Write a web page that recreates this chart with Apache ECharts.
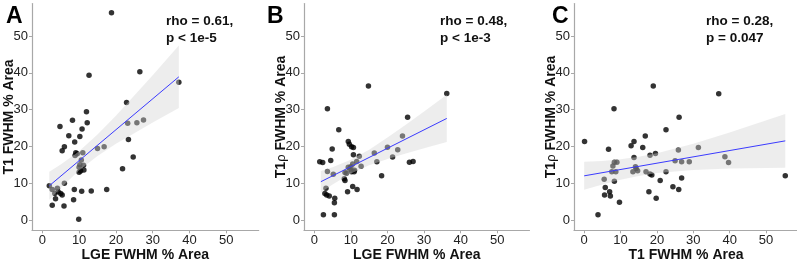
<!DOCTYPE html>
<html>
<head>
<meta charset="utf-8">
<script src="https://cdn.jsdelivr.net/npm/echarts@6/dist/echarts.min.js"></script>
<style>
html,body{margin:0;padding:0;background:#fff;}
#c{width:797px;height:261px;}
</style>
</head>
<body>
<div id="c"></div>
<script>
// ---- data ----
const panelLetters = ['A', 'B', 'C'];
const xTitles = ['LGE FWHM % Area', 'LGE FWHM % Area', 'T1 FWHM % Area'];
const yTitles = ['{b|T1 FWHM % Area}', '{b|T1}{r|ρ}{b| FWHM % Area}', '{b|T1}{r|ρ}{b| FWHM % Area}'];
const statLines = [['rho = 0.61,', 'p < 1e-5'], ['rho = 0.48,', 'p < 1e-3'], ['rho = 0.28,', 'p = 0.047']];
const tickValues = [0, 10, 20, 30, 40, 50];
const tickLabels = ['0', '10', '20', '30', '40', '50'];

// Panel A: LGE vs T1
const aX = [18.8, 37.1, 26.5, 12.7, 22.9, 12.0, 12.2, 8.2, 4.8, 7.2, 10.8, 10.2, 8.8, 6.0, 5.4, 9.1, 8.9, 11.0, 10.6, 10.2,
            11.2, 10.0, 10.4, 11.3, 10.0, 15.0, 16.8, 23.2, 25.7, 27.5, 23.4, 24.7, 21.8, 17.5, 13.3, 10.7, 8.7, 8.5, 5.9, 2.7,
            3.6, 9.9, 1.9, 2.7, 3.4, 4.1, 4.3, 5.0, 5.4, 6.0, 9.5];
const aY = [56.3, 37.4, 40.3, 39.3, 31.9, 29.4, 26.4, 27.1, 25.4, 22.9, 24.7, 22.7, 21.2, 19.9, 18.8, 18.3, 17.5, 18.3, 16.3, 15.0,
            14.9, 14.3, 13.3, 13.6, 13.0, 19.4, 19.9, 26.3, 26.4, 27.2, 21.9, 17.1, 13.9, 8.3, 7.9, 7.8, 8.3, 5.5, 3.8, 4.0,
            5.8, 0.2, 9.3, 8.3, 7.2, 8.6, 7.7, 7.2, 6.8, 10.0, 18.0];
const aLineX = [1.9, 37.1];
const aLineY = [9.3, 38.9];
const aBandX = [1.9, 5, 10, 15, 20, 25, 30, 37.1];
const aBandUpper = [13.1, 15.1, 18.7, 23.2, 28.3, 33.8, 39.3, 47.4];
const aBandLower = [5.5, 8.7, 13.5, 17.4, 20.7, 23.6, 26.5, 30.4];

// Panel B: LGE vs T1rho
const bX = [14.8, 36.2, 3.6, 6.7, 25.5, 24.1, 9.3, 9.6, 10.2, 10.7, 4.9, 1.5, 2.3, 4.5, 3.6, 5.2, 10.7, 12.3, 11.6, 12.8,
            16.4, 17.1, 20.0, 21.4, 22.8, 18.4, 26.0, 27.0, 9.3, 8.4, 8.8, 9.7, 10.2, 10.9, 8.2, 8.4, 9.1, 10.5, 11.7, 3.2,
            2.9, 3.4, 4.1, 5.6, 5.5, 2.5, 5.5, 10.0, 11.0, 10.5];
const bY = [36.4, 34.4, 30.2, 24.5, 27.9, 22.8, 21.3, 20.6, 19.9, 19.7, 19.3, 15.8, 15.6, 16.2, 13.2, 12.4, 17.7, 17.3, 15.9, 14.6,
            18.2, 15.8, 19.8, 17.1, 19.1, 12.0, 15.7, 15.9, 14.3, 12.9, 12.7, 13.8, 13.1, 13.1, 11.2, 10.7, 7.7, 9.1, 8.3, 8.6,
            7.2, 6.8, 6.5, 5.9, 4.7, 1.4, 1.4, 14.5, 13.5, 15.2];
const bLineX = [1.8, 36.2];
const bLineY = [10.4, 27.6];
const bBandX = [1.8, 5, 10, 15, 20, 25, 30, 36.2];
const bBandUpper = [13.3, 14.35, 16.36, 19.1, 22.4, 25.9, 29.5, 34.0];
const bBandLower = [7.5, 9.65, 12.64, 14.9, 16.6, 18.1, 19.5, 21.2];

// Panel C: T1 vs T1rho
const cX = [19.0, 37.0, 8.2, 26.1, 0.1, 22.5, 16.8, 13.7, 12.9, 16.1, 6.7, 19.6, 18.1, 13.7, 31.4, 25.9, 38.7, 39.7, 28.9, 26.8,
            25.0, 55.3, 7.9, 8.3, 9.0, 7.6, 8.7, 8.3, 5.5, 5.8, 7.0, 5.6, 7.2, 9.7, 3.8, 13.4, 14.1, 14.7, 17.0, 18.1,
            18.6, 17.8, 19.8, 20.9, 22.5, 24.4, 26.0, 26.8, 14.3];
const cY = [36.4, 34.3, 30.2, 27.9, 21.3, 24.5, 22.8, 21.3, 20.2, 19.7, 19.2, 18.1, 17.6, 17.0, 19.7, 19.0, 17.2, 15.6, 15.8, 15.8,
            16.1, 12.0, 14.7, 15.7, 15.7, 13.1, 13.1, 10.5, 11.1, 8.8, 7.7, 6.8, 6.5, 4.8, 1.4, 13.1, 14.5, 13.4, 13.1, 12.5,
            12.2, 7.7, 5.9, 10.7, 13.1, 9.0, 8.3, 11.4, 14.0];
const cLineX = [0, 55.3];
const cLineY = [12.0, 21.5];
const cBandX = [0, 5, 10, 15, 20, 30, 40, 55.3];
const cBandUpper = [15.8, 16.06, 16.52, 17.18, 18.12, 20.71, 23.78, 28.8];
const cBandLower = [8.2, 9.66, 10.92, 11.98, 12.76, 13.61, 13.98, 14.2];

// ---- build chart ----
const panels = [
  {x: aX, y: aY, lx: aLineX, ly: aLineY, bx: aBandX, bu: aBandUpper, bl: aBandLower},
  {x: bX, y: bY, lx: bLineX, ly: bLineY, bx: bBandX, bu: bBandUpper, bl: bBandLower},
  {x: cX, y: cY, lx: cLineX, ly: cLineY, bx: cBandX, bu: cBandUpper, bl: cBandLower}
];
const grids = [
  {left: 32, top: 3.6, width: 226.7, height: 226.7, outerBoundsMode: 'none', containLabel: false},
  {left: 304, top: 3.6, width: 225.5, height: 226.7, outerBoundsMode: 'none', containLabel: false},
  {left: 574, top: 3.6, width: 224, height: 226.7, outerBoundsMode: 'none', containLabel: false}
];
const letterPos = [6, 267, 552];
const statPos = [166, 440, 706];
const FONT = '"Liberation Sans", Arial, sans-serif';
const axisColor = '#a8a8a8';

function axisCommon() {
  return {
    type: 'value', min: -2.8, max: 58.8,
    splitLine: {show: false},
    axisLine: {show: true, onZero: false, lineStyle: {color: axisColor, width: 1.2}},
    axisTick: {show: true, length: 3, customValues: tickValues, lineStyle: {color: axisColor}},
    axisLabel: {customValues: tickValues, formatter: v => tickLabels[tickValues.indexOf(v)],
      fontFamily: FONT, fontSize: 13, color: '#222'},
    nameLocation: 'middle',
    nameMoveOverlap: false
  };
}

const xAxis = [], yAxis = [], series = [], graphic = [];
panels.forEach((p, i) => {
  xAxis.push(Object.assign(axisCommon(), {
    gridIndex: i, name: xTitles[i], nameGap: 18,
    axisLabel: Object.assign(axisCommon().axisLabel, {margin: 4}),
    nameTextStyle: {fontFamily: FONT, fontSize: 14, fontWeight: 'bold', color: '#111'}
  }));
  yAxis.push(Object.assign(axisCommon(), {
    gridIndex: i, name: yTitles[i], nameGap: 16,
    axisLabel: Object.assign(axisCommon().axisLabel, {margin: 4}),
    nameTextStyle: {rich: {
      b: {fontFamily: FONT, fontSize: 14, fontWeight: 'bold', color: '#111'},
      r: {fontFamily: FONT, fontSize: 13, fontWeight: 'normal', color: '#111'}
    }}
  }));
  series.push({
    type: 'scatter', xAxisIndex: i, yAxisIndex: i, z: 1, silent: true,
    symbolSize: 5.5, itemStyle: {color: '#000'},
    data: p.x.map((v, k) => [v, p.y[k]])
  });
  series.push({
    type: 'custom', xAxisIndex: i, yAxisIndex: i, z: 3, silent: true,
    data: [[p.bx[0], p.bu[0]]],
    renderItem: (params, api) => {
      const pts = [];
      for (let k = 0; k < p.bx.length; k++) pts.push(api.coord([p.bx[k], p.bu[k]]));
      for (let k = p.bx.length - 1; k >= 0; k--) pts.push(api.coord([p.bx[k], p.bl[k]]));
      return {type: 'polygon', shape: {points: pts}, style: {fill: 'rgba(212,212,212,0.42)'}};
    }
  });
  series.push({
    type: 'line', xAxisIndex: i, yAxisIndex: i, z: 4, silent: true,
    symbol: 'none', lineStyle: {color: '#3b3bff', width: 1},
    data: p.lx.map((v, k) => [v, p.ly[k]])
  });
  graphic.push({
    type: 'text', left: letterPos[i], top: 5,
    style: {text: panelLetters[i], font: 'bold 23px ' + FONT, fill: '#000'}
  });
  graphic.push({
    type: 'text', left: statPos[i], top: 13,
    style: {text: statLines[i].join('\n'), font: 'bold 13.5px ' + FONT, fill: '#111', lineHeight: 17}
  });
});

const chart = echarts.init(document.getElementById('c'), null, {renderer: 'canvas'});
chart.setOption({
  animation: false,
  backgroundColor: '#fff',
  grid: grids,
  xAxis, yAxis, series, graphic
});
</script>
</body>
</html>
